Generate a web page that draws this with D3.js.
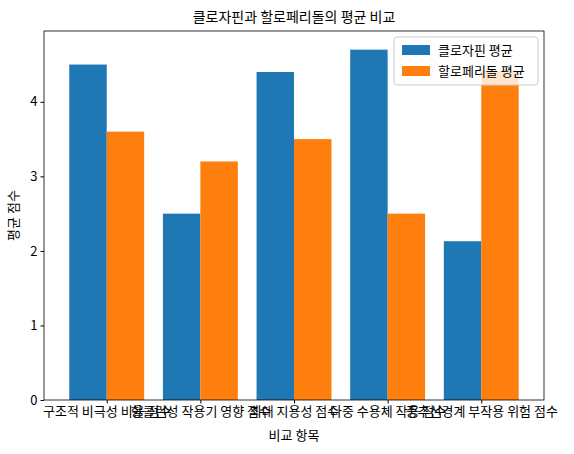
<!DOCTYPE html><html><head><meta charset="utf-8"><script src="https://cdn.jsdelivr.net/npm/d3@7"></script>
<style>body{margin:0;background:#fff}text{font-family:"Noto Sans CJK KR","Noto Sans",sans-serif}</style></head><body><svg width="574" height="454"></svg><script>
const categories=["구조적 비극성 비율 점수","항콜린성 작용기 영향 점수","최대 지용성 점수","다중 수용체 작용 점수","중추신경계 부작용 위험 점수"];
const clozapine=[4.5,2.5,4.4,4.7,2.13];
const haloperidol=[3.6,3.2,3.5,2.5,4.42];
const yTicks=[0,1,2,3,4];
const series=[{name:"클로자핀 평균",vals:clozapine,color:"#1f77b4",off:-0.2},{name:"할로페리돌 평균",vals:haloperidol,color:"#ff7f0e",off:0.2}];
const svg=d3.select("svg");
const L=44,R=544,T=31,B=400;
const x=d3.scaleLinear().domain([-0.67,4.67]).range([L,R]);
const y=d3.scaleLinear().domain([0,4.95]).range([B,T]);
series.forEach(s=>{svg.selectAll(null).data(s.vals).enter().append("rect")
 .attr("x",(d,i)=>x(i+s.off-0.2)).attr("width",x(0.4)-x(0)).attr("y",d=>y(d)).attr("height",d=>B-y(d)).attr("fill",s.color);});
const ya=svg.append("g").attr("transform",`translate(${L},0)`).call(d3.axisLeft(y).tickValues(yTicks).tickFormat(d3.format("d")).tickSize(3.5).tickPadding(3));
const xa=svg.append("g").attr("transform",`translate(0,${B})`).call(d3.axisBottom(x).tickValues(d3.range(5)).tickFormat(i=>categories[i]).tickSize(3.5).tickPadding(3));
[ya,xa].forEach(a=>{a.select(".domain").remove();a.selectAll("text").attr("font-size",13).attr("fill","#000");});
svg.append("rect").attr("x",L).attr("y",T).attr("width",R-L).attr("height",B-T).attr("fill","none").attr("stroke","#000").attr("stroke-width",0.8);
svg.append("text").attr("x",(L+R)/2).attr("y",22).attr("text-anchor","middle").attr("font-size",14).text("클로자핀과 할로페리돌의 평균 비교");
svg.append("text").attr("x",(L+R)/2).attr("y",440).attr("text-anchor","middle").attr("font-size",13).text("비교 항목");
svg.append("text").attr("transform",`translate(18,${(T+B)/2}) rotate(-90)`).attr("text-anchor","middle").attr("font-size",13).text("평균 점수");
const lg=svg.append("g").attr("transform","translate(394,37)");
lg.append("rect").attr("width",144).attr("height",48).attr("rx",3).attr("fill","#fff").attr("fill-opacity",0.8).attr("stroke","#ccc");
series.forEach((s,i)=>{lg.append("rect").attr("x",8).attr("y",8+i*21).attr("width",28).attr("height",10).attr("fill",s.color);
 lg.append("text").attr("x",44).attr("y",18+i*21).attr("font-size",13).text(s.name);});
</script></body></html>
